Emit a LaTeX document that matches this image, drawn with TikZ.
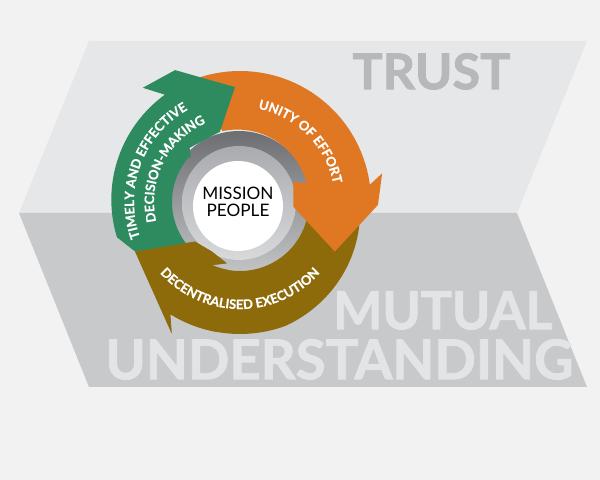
\documentclass[tikz,border=0pt]{standalone}
\usepackage{graphicx}
\usepackage{fontspec}
\setmainfont{Lato}
\newfontfamily\heavyfont{Lato}[BoldFeatures={FakeBold=1.6}]
\newfontfamily\semiheavyfont{Lato}[BoldFeatures={FakeBold=0.6}]
\usetikzlibrary{decorations.text}
\definecolor{bgc}{HTML}{F2F2F2}
\definecolor{upc}{HTML}{E6E7E8}
\definecolor{loc}{HTML}{C8C9CB}
\definecolor{trustc}{HTML}{B7B8BA}
\definecolor{mutc}{HTML}{E3E4E5}
\definecolor{orangec}{HTML}{E07722}
\definecolor{greenc}{HTML}{2E8B5F}
\definecolor{brownc}{HTML}{8D6A0A}
\definecolor{ringtop}{HTML}{6D6E71}
\definecolor{ringbot}{HTML}{C4C5C7}
\definecolor{ringintop}{HTML}{A9ABAE}
\definecolor{ringinbot}{HTML}{D8D9DB}
\newcommand{\arwfont}{\semiheavyfont\bfseries\fontsize{6.5}{7}\selectfont}
\begin{document}
\begin{tikzpicture}[x=0.5pt,y=-0.5pt,
  bigword/.style={anchor=south west, inner sep=0pt},
  arcword/.style={decorate, decoration={text along path, text color=white, text align=center, text={|\arwfont|#1}}}]
\useasboundingbox (0,0) rectangle (600,480);
\fill[bgc] (0,0) rectangle (600,480);
% chevron bands
\fill[upc] (89,41) -- (587,41) -- (517,213) -- (19,213) -- cycle;
\fill[loc] (19,213) -- (517,213) -- (587,387) -- (89,387) -- cycle;
% big words
\node[bigword, text=trustc] (trust) at (352,90) {\resizebox{79pt}{18pt}{\heavyfont\bfseries TRUST}};
\node[bigword, text=mutc] (mutual) at (333,330) {\resizebox{109.5pt}{19pt}{\heavyfont\bfseries MUTUAL}};
\node[bigword, text=mutc] (underst) at (105,380) {\resizebox{234pt}{20pt}{\heavyfont\bfseries UNDERSTANDING}};
% grey ring
\begin{scope}[shift={(239,203)}]
\shade[top color=ringtop, bottom color=ringbot] (0,0) circle[radius=72];
\shade[top color=ringintop, bottom color=ringinbot] (0,0) circle[radius=57];
\end{scope}
\fill[white] (238,206) circle[radius=45];
% arrows
\begin{scope}[shift={(240,202)}]
% brown
\fill[brownc] plot[domain=8:122.9,samples=50] (\x:{min(132,121+11*(\x-8)/62)}) -- (122.9:129) -- (117.5:148) -- (154.7:116) -- (138.6:60) -- (120:57) -- (102.2:62.7) -- (113.2:68.5) -- plot[domain=113.2:12,samples=50] (\x:69) -- cycle;
% orange
\fill[orangec] plot[domain=250:353.7,samples=50] (\x:131) -- (353.7:127) -- (348.6:145) -- (361.2:138) -- (387.6:107) -- (365:53.5) -- (339.2:57) -- (344.3:69) -- plot[domain=344.3:256,samples=50] (\x:{69+4*(344.3-\x)/88.3}) -- cycle;
% green
\fill[greenc] plot[domain=164:235,samples=40] (\x:{128+3*(\x-164)/71}) -- (229.6:150) -- (243.8:147) -- (267.5:115) -- (254:73) -- (227:74) -- (222:66) -- plot[domain=222:141,samples=40] (\x:68) -- (154.7:116) -- cycle;
% brown head on top of green tail
\fill[brownc] plot[domain=100:122.9,samples=15] (\x:132) -- (122.9:129) -- (117.5:148) -- (154.7:116) -- (138.6:60) -- (120:57) -- (102.2:62.7) -- (113.2:68.5) -- plot[domain=113.2:100,samples=10] (\x:69) -- cycle;
% curved labels
\path[arcword={UNITY OF EFFORT}] (255:95) arc[start angle=255, end angle=375, radius=95];
\path[arcword={TIMELY AND EFFECTIVE}] (130:106) arc[start angle=130, end angle=271, radius=106];
\path[arcword={DECISION-MAKING}] (150:86) arc[start angle=150, end angle=263.4, radius=86];
\path[arcword={DECENTRALISED EXECUTION}] (160:107) arc[start angle=160, end angle=20, radius=107];
\end{scope}
% centre
\node[anchor=base, inner sep=0pt, font=\fontsize{8.6}{9}\selectfont] (mission) at (238,200) {MISSION};
\node[anchor=base, inner sep=0pt, font=\fontsize{8.6}{9}\selectfont] (people) at (238,217) {PEOPLE};
\end{tikzpicture}
\end{document}
